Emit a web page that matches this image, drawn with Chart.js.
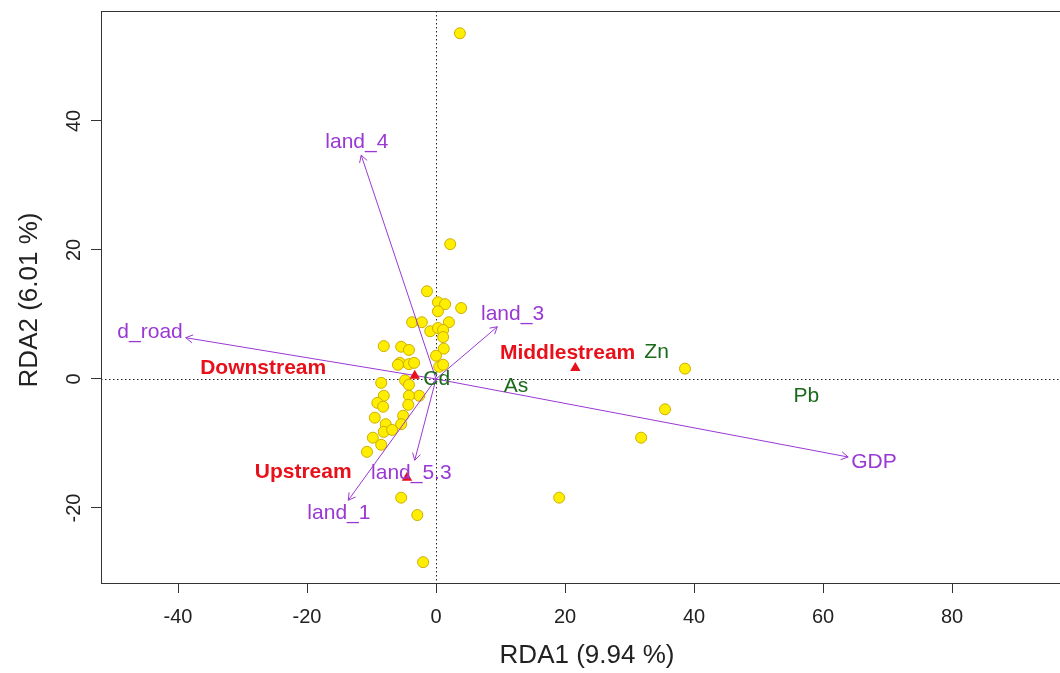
<!DOCTYPE html>
<html>
<head>
<meta charset="utf-8">
<title>RDA biplot</title>
<script src="https://cdn.jsdelivr.net/npm/chart.js@4.4.0/dist/chart.umd.min.js"></script>
<style>
html, body { margin: 0; padding: 0; background: #fff; overflow: hidden; }
#wrap { width: 1060px; height: 673px; }
</style>
</head>
<body>
<div id="wrap"><canvas id="rda" width="1060" height="673"></canvas></div>
<script>
// Site scores on RDA1 / RDA2
const siteX = [3.7, 2.2, -1.4, 0.3, 1.4, 3.9, 0.3, -3.7, -2.2, 2.0,
    -0.9, 0.3, 1.1, 1.1, -8.1, -5.4, -4.2, 1.2, 0.0, 0.5,
    1.1, -5.6, -5.9, -4.2, -3.4, -4.8, -4.2, -8.5, -2.6, -4.2,
    -8.1, -9.1, -8.2, -4.3, -9.5, -5.1, -7.8, -8.1, -6.8, -5.4,
    -9.8, -8.5, -10.7, -5.4, -2.9, -2.0, 19.1, 31.8, 35.5, 38.6];
const siteY = [53.6, 20.9, 13.6, 11.9, 11.6, 11.0, 10.5, 8.8, 8.8, 8.8,
    7.4, 7.9, 7.6, 6.5, 5.1, 5.0, 4.5, 4.7, 3.6, 1.9,
    2.2, 2.5, 2.2, 2.3, 2.5, -0.2, -0.9, -0.6, -2.6, -2.6,
    -2.6, -3.7, -4.3, -4.0, -6.0, -5.7, -7.0, -8.2, -7.9, -7.0,
    -9.1, -10.2, -11.3, -18.4, -21.1, -28.4, -18.4, -9.1, -4.7, 1.6];

// Group centroids and where their names sit
const groupNames = ['Downstream', 'Middlestream', 'Upstream'];
const groupX = [-3.3, 21.6, -4.5];
const groupY = [0.5, 1.7, -15.3];
const groupLabelX = [-26.8, 20.4, -20.6];
const groupLabelY = [1.7, 4.0, -14.4];

// Response variables (metals)
const metalNames = ['Cd', 'As', 'Zn', 'Pb'];
const metalX = [0.1, 12.4, 34.2, 57.4];
const metalY = [-0.1, -1.1, 4.1, -2.7];

// Explanatory variable arrows
const envNames = ['land_4', 'd_road', 'land_3', 'GDP', 'land_5.3', 'land_1'];
const envX = [-11.6, -38.8, 9.5, 63.9, -3.3, -13.6];
const envY = [34.7, 6.4, 8.1, -12.1, -12.6, -18.8];

const xTicks = [-40, -20, 0, 20, 40, 60, 80];
const yTicks = [-20, 0, 20, 40];

const PURPLE = '#9A38D4';
const RED = '#E8101A';
const GREEN = '#1B6A1B';
const AXIS = '#333333';
const FONT = '"Liberation Sans", Arial, sans-serif';

const arrowSets = envNames.map((name, i) => ({
    label: name,
    type: 'line',
    data: [{ x: 0, y: 0 }, { x: envX[i], y: envY[i] }],
    borderColor: PURPLE,
    borderWidth: 1,
    pointRadius: 0,
    fill: false,
    order: 2
}));

// dotted zero lines, drawn under the marks
const zeroLines = {
    id: 'zeroLines',
    beforeDatasetsDraw(chart) {
        const { ctx, chartArea: a, scales: { x, y } } = chart;
        const x0 = x.getPixelForValue(0), y0 = y.getPixelForValue(0);
        ctx.save();
        ctx.strokeStyle = '#222';
        ctx.lineWidth = 1;
        ctx.setLineDash([1.5, 2.5]);
        ctx.beginPath();
        ctx.moveTo(a.left, Math.round(y0) + 0.5);
        ctx.lineTo(a.right, Math.round(y0) + 0.5);
        ctx.moveTo(Math.round(x0) + 0.5, a.top);
        ctx.lineTo(Math.round(x0) + 0.5, a.bottom);
        ctx.stroke();
        ctx.restore();
    }
};

function labelCenter(ctx, text, tx, ty, ox, oy) {
    const w = ctx.measureText(text).width, h = 20;
    const dx = tx - ox, dy = ty - oy, len = Math.hypot(dx, dy);
    const ux = dx / len, uy = dy / len;
    const t = Math.min((w / 2 + 3) / Math.abs(ux || 1e-9), (h / 2 + 3) / Math.abs(uy || 1e-9));
    return [tx + ux * t, ty + uy * t];
}

// arrowheads, text labels, box, tick labels and axis titles
const annotations = {
    id: 'annotations',
    afterDatasetsDraw(chart) {
        const { ctx, scales: { x, y } } = chart;
        const ox = x.getPixelForValue(0), oy = y.getPixelForValue(0);
        ctx.save();
        ctx.textAlign = 'center';
        ctx.textBaseline = 'middle';

        // arrowheads + variable names
        ctx.strokeStyle = PURPLE;
        ctx.fillStyle = PURPLE;
        ctx.lineWidth = 1;
        ctx.font = '21px ' + FONT;
        envNames.forEach((name, i) => {
            const tx = x.getPixelForValue(envX[i]), ty = y.getPixelForValue(envY[i]);
            const ang = Math.atan2(ty - oy, tx - ox);
            const hl = 8, spread = Math.PI / 6;
            ctx.beginPath();
            ctx.moveTo(tx - hl * Math.cos(ang - spread), ty - hl * Math.sin(ang - spread));
            ctx.lineTo(tx, ty);
            ctx.lineTo(tx - hl * Math.cos(ang + spread), ty - hl * Math.sin(ang + spread));
            ctx.stroke();
            const [lx, ly] = labelCenter(ctx, name, tx, ty, ox, oy);
            ctx.fillText(name, lx, ly);
        });

        // metals
        ctx.fillStyle = GREEN;
        metalNames.forEach((name, i) => {
            ctx.fillText(name, x.getPixelForValue(metalX[i]), y.getPixelForValue(metalY[i]));
        });

        // group names
        ctx.fillStyle = RED;
        ctx.font = 'bold 21px ' + FONT;
        groupNames.forEach((name, i) => {
            ctx.fillText(name, x.getPixelForValue(groupLabelX[i]), y.getPixelForValue(groupLabelY[i]));
        });
        ctx.restore();
    },
    afterDraw(chart) {
        const { ctx, chartArea: a, scales: { x, y } } = chart;
        ctx.save();
        ctx.strokeStyle = AXIS;
        ctx.lineWidth = 1;
        ctx.strokeRect(Math.round(a.left) + 0.5, Math.round(a.top) + 0.5, a.right - a.left + 10, Math.round(a.bottom - a.top));

        ctx.fillStyle = '#222';
        ctx.textAlign = 'center';
        ctx.textBaseline = 'middle';
        ctx.font = '20px ' + FONT;
        xTicks.forEach(v => ctx.fillText(String(v), x.getPixelForValue(v), a.bottom + 34));
        yTicks.forEach(v => {
            ctx.save();
            ctx.translate(a.left - 27, y.getPixelForValue(v));
            ctx.rotate(-Math.PI / 2);
            ctx.fillText(String(v), 0, 0);
            ctx.restore();
        });

        ctx.font = '26px ' + FONT;
        ctx.fillText('RDA1 (9.94 %)', 587, 656);
        ctx.save();
        ctx.translate(30, 300);
        ctx.rotate(-Math.PI / 2);
        ctx.fillText('RDA2 (6.01 %)', 0, 0);
        ctx.restore();
        ctx.restore();
    }
};

const axisCommon = {
    type: 'linear',
    ticks: { display: false },
    border: { display: false },
    grid: { drawOnChartArea: false, drawTicks: true, tickLength: 10, color: AXIS, tickColor: AXIS }
};

new Chart(document.getElementById('rda'), {
    type: 'scatter',
    data: {
        datasets: [
            {
                label: 'centroids',
                data: groupX.map((v, i) => ({ x: v, y: groupY[i] })),
                pointStyle: 'triangle',
                pointRadius: 6,
                backgroundColor: RED,
                borderColor: RED,
                borderWidth: 0,
                order: 1
            },
            ...arrowSets,
            {
                label: 'sites',
                data: siteX.map((v, i) => ({ x: v, y: siteY[i] })),
                pointRadius: 5.5,
                backgroundColor: '#FFEE00',
                borderColor: '#CDAE00',
                borderWidth: 1,
                order: 3
            }
        ]
    },
    options: {
        responsive: false,
        animation: false,
        devicePixelRatio: 1,
        layout: { autoPadding: false, padding: { top: 11, left: 0, right: 0, bottom: 0 } },
        plugins: { legend: { display: false }, tooltip: { enabled: false } },
        scales: {
            x: {
                ...axisCommon,
                position: 'bottom',
                min: -51.94,
                max: 96.74,
                afterBuildTicks: s => { s.ticks = xTicks.map(v => ({ value: v })); },
                afterFit: s => { s.height = 90; }
            },
            y: {
                ...axisCommon,
                position: 'left',
                min: -31.63,
                max: 57.05,
                afterBuildTicks: s => { s.ticks = yTicks.map(v => ({ value: v })); },
                afterFit: s => { s.width = 101; }
            }
        }
    },
    plugins: [zeroLines, annotations]
});
</script>
</body>
</html>
